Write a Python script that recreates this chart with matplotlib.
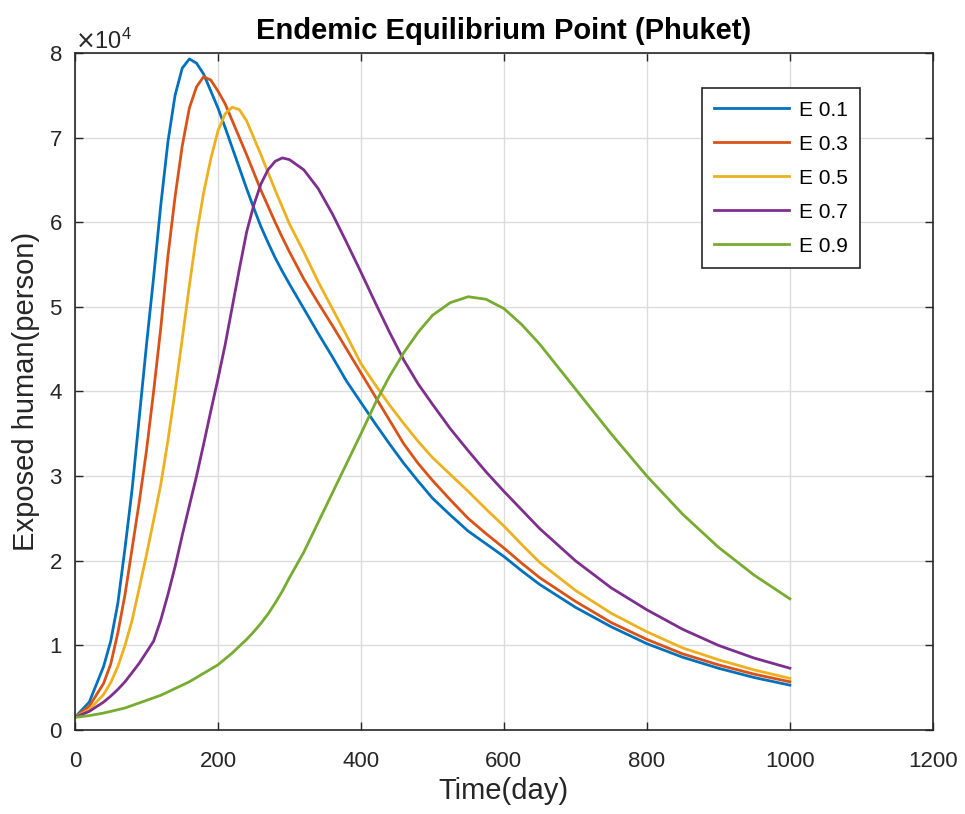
import matplotlib.pyplot as plt
from matplotlib.ticker import ScalarFormatter

plt.rcParams['font.family'] = ['Liberation Sans', 'DejaVu Sans']

# time grid (day) and values (x1e4 persons)
days = [0, 20, 40, 50, 60, 70, 80, 90, 100, 110, 120, 130, 140, 150, 160, 170,
        180, 190, 200, 210, 220, 230, 240, 250, 260, 270, 280, 290, 300, 320, 340,
        360, 380, 400, 420, 440, 460, 480, 500, 525, 550, 575, 600, 625, 650,
        700, 750, 800, 850, 900, 950, 1000]

e01 = [0.15, 0.33, 0.75, 1.05, 1.5, 2.15, 2.85, 3.7, 4.55, 5.35, 6.2, 6.95, 7.5,
       7.82, 7.93, 7.88, 7.75, 7.55, 7.35, 7.12, 6.88, 6.64, 6.4, 6.17, 5.95,
       5.76, 5.58, 5.42, 5.27, 4.98, 4.69, 4.41, 4.12, 3.87, 3.62, 3.38, 3.15,
       2.94, 2.74, 2.54, 2.35, 2.2, 2.05, 1.88, 1.72, 1.45, 1.22, 1.02, 0.86,
       0.73, 0.62, 0.53]
e03 = [0.15, 0.28, 0.55, 0.78, 1.15, 1.6, 2.15, 2.7, 3.3, 4.0, 4.75, 5.6, 6.3,
       6.9, 7.35, 7.6, 7.72, 7.68, 7.55, 7.4, 7.2, 7.0, 6.8, 6.59, 6.38, 6.19,
       6.0, 5.82, 5.65, 5.33, 5.05, 4.78, 4.5, 4.22, 3.94, 3.66, 3.38, 3.15,
       2.95, 2.72, 2.5, 2.32, 2.15, 1.97, 1.8, 1.52, 1.27, 1.07, 0.9, 0.77, 0.66,
       0.57]
e05 = [0.15, 0.24, 0.42, 0.56, 0.75, 1.0, 1.3, 1.68, 2.07, 2.48, 2.9, 3.42, 4.0,
       4.62, 5.25, 5.85, 6.35, 6.75, 7.08, 7.28, 7.36, 7.33, 7.2, 7.0, 6.8,
       6.59, 6.38, 6.18, 5.98, 5.65, 5.3, 4.98, 4.66, 4.33, 4.08, 3.84, 3.62,
       3.41, 3.22, 3.02, 2.82, 2.61, 2.41, 2.19, 1.98, 1.65, 1.38, 1.16, 0.97,
       0.83, 0.71, 0.61]
e07 = [0.15, 0.22, 0.33, 0.4, 0.48, 0.57, 0.68, 0.79, 0.92, 1.05, 1.3, 1.6, 1.93,
       2.3, 2.65, 3.0, 3.38, 3.77, 4.15, 4.55, 5.0, 5.45, 5.88, 6.2, 6.45, 6.62,
       6.72, 6.76, 6.74, 6.62, 6.4, 6.1, 5.76, 5.41, 5.05, 4.7, 4.37, 4.09, 3.85,
       3.56, 3.3, 3.05, 2.82, 2.6, 2.38, 2.0, 1.68, 1.42, 1.19, 1.0, 0.85, 0.73]
e09 = [0.15, 0.17, 0.2, 0.22, 0.24, 0.26, 0.29, 0.32, 0.35, 0.38, 0.41, 0.45,
       0.49, 0.53, 0.57, 0.62, 0.67, 0.72, 0.77, 0.84, 0.91, 0.99, 1.07, 1.16,
       1.26, 1.37, 1.5, 1.64, 1.8, 2.1, 2.45, 2.8, 3.15, 3.5, 3.86, 4.18, 4.46,
       4.7, 4.9, 5.05, 5.12, 5.09, 4.98, 4.79, 4.56, 4.03, 3.5, 3.0, 2.55, 2.16,
       1.83, 1.55]

labels = ['E 0.1', 'E 0.3', 'E 0.5', 'E 0.7', 'E 0.9']
colors = ['#0072BD', '#D95319', '#EDB120', '#7E2F8E', '#77AC30']
series = [e01, e03, e05, e07, e09]

fig = plt.figure(figsize=(9.65, 8.14), dpi=100)
ax = fig.add_axes([0.0777, 0.1032, 0.889, 0.8317])

for vals, lab, col in zip(series, labels, colors):
    ax.plot(days, [v * 1e4 for v in vals], color=col, lw=2, label=lab)

ax.set_xlim(0, 1200)
ax.set_ylim(0, 8e4)
ax.set_xticks(range(0, 1201, 200))
ax.set_yticks([i * 1e4 for i in range(9)])

fmt = ScalarFormatter(useMathText=True)
fmt.set_powerlimits((4, 4))
ax.yaxis.set_major_formatter(fmt)
ax.yaxis.get_offset_text().set_fontsize(17)
ax.yaxis.get_offset_text().set_color('#262626')

ax.grid(True, color='#dcdcdc', lw=1)
ax.set_axisbelow(True)
ax.tick_params(direction='in', length=6, width=1, top=True, right=True,
               labelsize=16, colors='#262626')
ax.tick_params(axis='x', pad=15)
ax.tick_params(axis='y', pad=9)
for s in ax.spines.values():
    s.set_color('#262626')
    s.set_linewidth(1.2)

ax.set_title('Endemic Equilibrium Point (Phuket)', fontsize=21, fontweight='bold', pad=10)
ax.set_xlabel('Time(day)', fontsize=21, color='#262626', labelpad=4)
ax.set_ylabel('Exposed human(person)', fontsize=21, color='#262626', labelpad=6)

leg = ax.legend(loc='upper right', bbox_to_anchor=(0.915, 0.948), fontsize=15,
                handlelength=3.6, handletextpad=0.45, fancybox=False,
                framealpha=1, borderaxespad=0, edgecolor='#262626',
                borderpad=0.6, labelspacing=0.72)
leg.get_frame().set_linewidth(1.2)

fig.savefig('out.png', dpi=100)
